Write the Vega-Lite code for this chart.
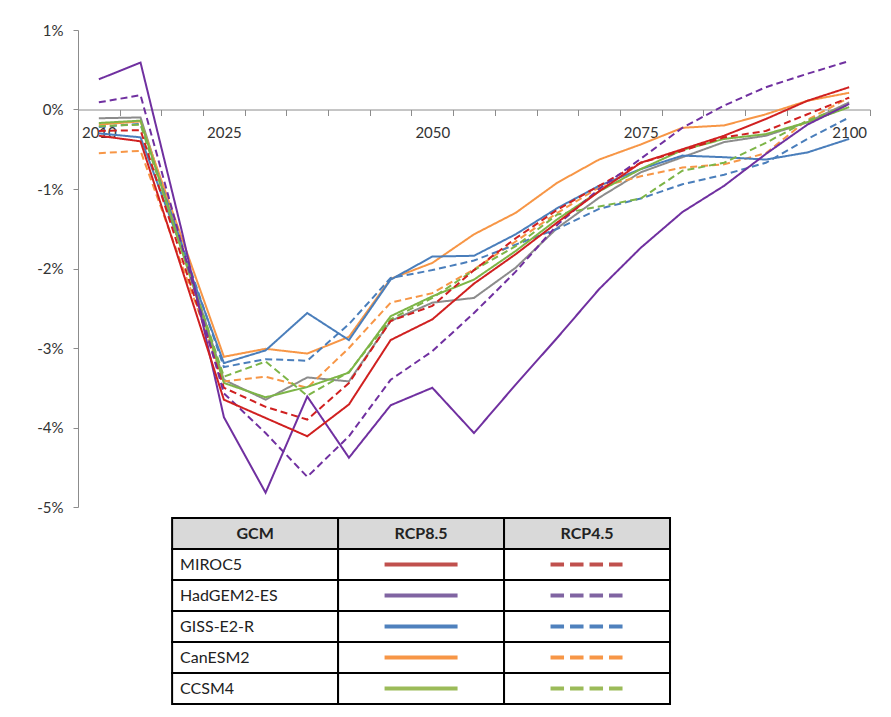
{
  "$schema": "https://vega.github.io/schema/vega-lite/v6.json",
  "background": "white",
  "padding": {"left": 36, "top": 23, "right": 10, "bottom": 5},
  "config": {"view": {"stroke": null}, "font": "Lato"},
  "bounds": "flush",
  "spacing": 11,
  "resolve": {"scale": {"color": "independent", "stroke": "independent", "strokeDash": "independent", "x": "independent", "y": "independent"}},
  "datasets": {
    "series": [
      {"gcm":"Mean","rcp":"RCP8.5","year":2010,"v":-0.11},{"gcm":"Mean","rcp":"RCP8.5","year":2015,"v":-0.10},{"gcm":"Mean","rcp":"RCP8.5","year":2020,"v":-1.75},{"gcm":"Mean","rcp":"RCP8.5","year":2025,"v":-3.40},{"gcm":"Mean","rcp":"RCP8.5","year":2030,"v":-3.65},{"gcm":"Mean","rcp":"RCP8.5","year":2035,"v":-3.37},{"gcm":"Mean","rcp":"RCP8.5","year":2040,"v":-3.42},{"gcm":"Mean","rcp":"RCP8.5","year":2045,"v":-2.66},{"gcm":"Mean","rcp":"RCP8.5","year":2050,"v":-2.43},{"gcm":"Mean","rcp":"RCP8.5","year":2055,"v":-2.37},{"gcm":"Mean","rcp":"RCP8.5","year":2060,"v":-1.99},{"gcm":"Mean","rcp":"RCP8.5","year":2065,"v":-1.49},{"gcm":"Mean","rcp":"RCP8.5","year":2070,"v":-1.11},{"gcm":"Mean","rcp":"RCP8.5","year":2075,"v":-0.79},{"gcm":"Mean","rcp":"RCP8.5","year":2080,"v":-0.60},{"gcm":"Mean","rcp":"RCP8.5","year":2085,"v":-0.41},{"gcm":"Mean","rcp":"RCP8.5","year":2090,"v":-0.33},{"gcm":"Mean","rcp":"RCP8.5","year":2095,"v":-0.16},{"gcm":"Mean","rcp":"RCP8.5","year":2100,"v":0.09},

      {"gcm":"CanESM2","rcp":"RCP8.5","year":2010,"v":-0.19},{"gcm":"CanESM2","rcp":"RCP8.5","year":2015,"v":-0.15},{"gcm":"CanESM2","rcp":"RCP8.5","year":2020,"v":-1.63},{"gcm":"CanESM2","rcp":"RCP8.5","year":2025,"v":-3.11},{"gcm":"CanESM2","rcp":"RCP8.5","year":2030,"v":-3.01},{"gcm":"CanESM2","rcp":"RCP8.5","year":2035,"v":-3.07},{"gcm":"CanESM2","rcp":"RCP8.5","year":2040,"v":-2.86},{"gcm":"CanESM2","rcp":"RCP8.5","year":2045,"v":-2.13},{"gcm":"CanESM2","rcp":"RCP8.5","year":2050,"v":-1.93},{"gcm":"CanESM2","rcp":"RCP8.5","year":2055,"v":-1.57},{"gcm":"CanESM2","rcp":"RCP8.5","year":2060,"v":-1.30},{"gcm":"CanESM2","rcp":"RCP8.5","year":2065,"v":-0.92},{"gcm":"CanESM2","rcp":"RCP8.5","year":2070,"v":-0.63},{"gcm":"CanESM2","rcp":"RCP8.5","year":2075,"v":-0.44},{"gcm":"CanESM2","rcp":"RCP8.5","year":2080,"v":-0.23},{"gcm":"CanESM2","rcp":"RCP8.5","year":2085,"v":-0.20},{"gcm":"CanESM2","rcp":"RCP8.5","year":2090,"v":-0.06},{"gcm":"CanESM2","rcp":"RCP8.5","year":2095,"v":0.11},{"gcm":"CanESM2","rcp":"RCP8.5","year":2100,"v":0.21},

      {"gcm":"CanESM2","rcp":"RCP4.5","year":2010,"v":-0.55},{"gcm":"CanESM2","rcp":"RCP4.5","year":2015,"v":-0.52},{"gcm":"CanESM2","rcp":"RCP4.5","year":2020,"v":-1.97},{"gcm":"CanESM2","rcp":"RCP4.5","year":2025,"v":-3.42},{"gcm":"CanESM2","rcp":"RCP4.5","year":2030,"v":-3.36},{"gcm":"CanESM2","rcp":"RCP4.5","year":2035,"v":-3.50},{"gcm":"CanESM2","rcp":"RCP4.5","year":2040,"v":-3.00},{"gcm":"CanESM2","rcp":"RCP4.5","year":2045,"v":-2.43},{"gcm":"CanESM2","rcp":"RCP4.5","year":2050,"v":-2.31},{"gcm":"CanESM2","rcp":"RCP4.5","year":2055,"v":-2.01},{"gcm":"CanESM2","rcp":"RCP4.5","year":2060,"v":-1.66},{"gcm":"CanESM2","rcp":"RCP4.5","year":2065,"v":-1.30},{"gcm":"CanESM2","rcp":"RCP4.5","year":2070,"v":-0.98},{"gcm":"CanESM2","rcp":"RCP4.5","year":2075,"v":-0.84},{"gcm":"CanESM2","rcp":"RCP4.5","year":2080,"v":-0.73},{"gcm":"CanESM2","rcp":"RCP4.5","year":2085,"v":-0.69},{"gcm":"CanESM2","rcp":"RCP4.5","year":2090,"v":-0.55},{"gcm":"CanESM2","rcp":"RCP4.5","year":2095,"v":-0.13},{"gcm":"CanESM2","rcp":"RCP4.5","year":2100,"v":0.15},

      {"gcm":"GISS-E2-R","rcp":"RCP8.5","year":2010,"v":-0.30},{"gcm":"GISS-E2-R","rcp":"RCP8.5","year":2015,"v":-0.35},{"gcm":"GISS-E2-R","rcp":"RCP8.5","year":2020,"v":-1.77},{"gcm":"GISS-E2-R","rcp":"RCP8.5","year":2025,"v":-3.19},{"gcm":"GISS-E2-R","rcp":"RCP8.5","year":2030,"v":-3.03},{"gcm":"GISS-E2-R","rcp":"RCP8.5","year":2035,"v":-2.56},{"gcm":"GISS-E2-R","rcp":"RCP8.5","year":2040,"v":-2.90},{"gcm":"GISS-E2-R","rcp":"RCP8.5","year":2045,"v":-2.14},{"gcm":"GISS-E2-R","rcp":"RCP8.5","year":2050,"v":-1.85},{"gcm":"GISS-E2-R","rcp":"RCP8.5","year":2055,"v":-1.84},{"gcm":"GISS-E2-R","rcp":"RCP8.5","year":2060,"v":-1.57},{"gcm":"GISS-E2-R","rcp":"RCP8.5","year":2065,"v":-1.24},{"gcm":"GISS-E2-R","rcp":"RCP8.5","year":2070,"v":-0.96},{"gcm":"GISS-E2-R","rcp":"RCP8.5","year":2075,"v":-0.75},{"gcm":"GISS-E2-R","rcp":"RCP8.5","year":2080,"v":-0.58},{"gcm":"GISS-E2-R","rcp":"RCP8.5","year":2085,"v":-0.60},{"gcm":"GISS-E2-R","rcp":"RCP8.5","year":2090,"v":-0.63},{"gcm":"GISS-E2-R","rcp":"RCP8.5","year":2095,"v":-0.54},{"gcm":"GISS-E2-R","rcp":"RCP8.5","year":2100,"v":-0.37},

      {"gcm":"GISS-E2-R","rcp":"RCP4.5","year":2010,"v":-0.22},{"gcm":"GISS-E2-R","rcp":"RCP4.5","year":2015,"v":-0.18},{"gcm":"GISS-E2-R","rcp":"RCP4.5","year":2020,"v":-1.71},{"gcm":"GISS-E2-R","rcp":"RCP4.5","year":2025,"v":-3.24},{"gcm":"GISS-E2-R","rcp":"RCP4.5","year":2030,"v":-3.14},{"gcm":"GISS-E2-R","rcp":"RCP4.5","year":2035,"v":-3.16},{"gcm":"GISS-E2-R","rcp":"RCP4.5","year":2040,"v":-2.70},{"gcm":"GISS-E2-R","rcp":"RCP4.5","year":2045,"v":-2.12},{"gcm":"GISS-E2-R","rcp":"RCP4.5","year":2050,"v":-2.02},{"gcm":"GISS-E2-R","rcp":"RCP4.5","year":2055,"v":-1.90},{"gcm":"GISS-E2-R","rcp":"RCP4.5","year":2060,"v":-1.70},{"gcm":"GISS-E2-R","rcp":"RCP4.5","year":2065,"v":-1.50},{"gcm":"GISS-E2-R","rcp":"RCP4.5","year":2070,"v":-1.25},{"gcm":"GISS-E2-R","rcp":"RCP4.5","year":2075,"v":-1.12},{"gcm":"GISS-E2-R","rcp":"RCP4.5","year":2080,"v":-0.94},{"gcm":"GISS-E2-R","rcp":"RCP4.5","year":2085,"v":-0.82},{"gcm":"GISS-E2-R","rcp":"RCP4.5","year":2090,"v":-0.67},{"gcm":"GISS-E2-R","rcp":"RCP4.5","year":2095,"v":-0.37},{"gcm":"GISS-E2-R","rcp":"RCP4.5","year":2100,"v":-0.10},

      {"gcm":"CCSM4","rcp":"RCP8.5","year":2010,"v":-0.17},{"gcm":"CCSM4","rcp":"RCP8.5","year":2015,"v":-0.14},{"gcm":"CCSM4","rcp":"RCP8.5","year":2020,"v":-1.79},{"gcm":"CCSM4","rcp":"RCP8.5","year":2025,"v":-3.44},{"gcm":"CCSM4","rcp":"RCP8.5","year":2030,"v":-3.62},{"gcm":"CCSM4","rcp":"RCP8.5","year":2035,"v":-3.49},{"gcm":"CCSM4","rcp":"RCP8.5","year":2040,"v":-3.31},{"gcm":"CCSM4","rcp":"RCP8.5","year":2045,"v":-2.60},{"gcm":"CCSM4","rcp":"RCP8.5","year":2050,"v":-2.35},{"gcm":"CCSM4","rcp":"RCP8.5","year":2055,"v":-2.14},{"gcm":"CCSM4","rcp":"RCP8.5","year":2060,"v":-1.78},{"gcm":"CCSM4","rcp":"RCP8.5","year":2065,"v":-1.38},{"gcm":"CCSM4","rcp":"RCP8.5","year":2070,"v":-1.03},{"gcm":"CCSM4","rcp":"RCP8.5","year":2075,"v":-0.75},{"gcm":"CCSM4","rcp":"RCP8.5","year":2080,"v":-0.51},{"gcm":"CCSM4","rcp":"RCP8.5","year":2085,"v":-0.37},{"gcm":"CCSM4","rcp":"RCP8.5","year":2090,"v":-0.31},{"gcm":"CCSM4","rcp":"RCP8.5","year":2095,"v":-0.16},{"gcm":"CCSM4","rcp":"RCP8.5","year":2100,"v":0.03},

      {"gcm":"CCSM4","rcp":"RCP4.5","year":2010,"v":-0.21},{"gcm":"CCSM4","rcp":"RCP4.5","year":2015,"v":-0.19},{"gcm":"CCSM4","rcp":"RCP4.5","year":2020,"v":-1.78},{"gcm":"CCSM4","rcp":"RCP4.5","year":2025,"v":-3.36},{"gcm":"CCSM4","rcp":"RCP4.5","year":2030,"v":-3.17},{"gcm":"CCSM4","rcp":"RCP4.5","year":2035,"v":-3.60},{"gcm":"CCSM4","rcp":"RCP4.5","year":2040,"v":-3.30},{"gcm":"CCSM4","rcp":"RCP4.5","year":2045,"v":-2.64},{"gcm":"CCSM4","rcp":"RCP4.5","year":2050,"v":-2.37},{"gcm":"CCSM4","rcp":"RCP4.5","year":2055,"v":-2.02},{"gcm":"CCSM4","rcp":"RCP4.5","year":2060,"v":-1.72},{"gcm":"CCSM4","rcp":"RCP4.5","year":2065,"v":-1.32},{"gcm":"CCSM4","rcp":"RCP4.5","year":2070,"v":-1.22},{"gcm":"CCSM4","rcp":"RCP4.5","year":2075,"v":-1.12},{"gcm":"CCSM4","rcp":"RCP4.5","year":2080,"v":-0.77},{"gcm":"CCSM4","rcp":"RCP4.5","year":2085,"v":-0.67},{"gcm":"CCSM4","rcp":"RCP4.5","year":2090,"v":-0.42},{"gcm":"CCSM4","rcp":"RCP4.5","year":2095,"v":-0.14},{"gcm":"CCSM4","rcp":"RCP4.5","year":2100,"v":0.06},

      {"gcm":"MIROC5","rcp":"RCP4.5","year":2010,"v":-0.27},{"gcm":"MIROC5","rcp":"RCP4.5","year":2015,"v":-0.26},{"gcm":"MIROC5","rcp":"RCP4.5","year":2020,"v":-1.88},{"gcm":"MIROC5","rcp":"RCP4.5","year":2025,"v":-3.50},{"gcm":"MIROC5","rcp":"RCP4.5","year":2030,"v":-3.74},{"gcm":"MIROC5","rcp":"RCP4.5","year":2035,"v":-3.90},{"gcm":"MIROC5","rcp":"RCP4.5","year":2040,"v":-3.44},{"gcm":"MIROC5","rcp":"RCP4.5","year":2045,"v":-2.66},{"gcm":"MIROC5","rcp":"RCP4.5","year":2050,"v":-2.47},{"gcm":"MIROC5","rcp":"RCP4.5","year":2055,"v":-2.02},{"gcm":"MIROC5","rcp":"RCP4.5","year":2060,"v":-1.62},{"gcm":"MIROC5","rcp":"RCP4.5","year":2065,"v":-1.26},{"gcm":"MIROC5","rcp":"RCP4.5","year":2070,"v":-0.96},{"gcm":"MIROC5","rcp":"RCP4.5","year":2075,"v":-0.67},{"gcm":"MIROC5","rcp":"RCP4.5","year":2080,"v":-0.52},{"gcm":"MIROC5","rcp":"RCP4.5","year":2085,"v":-0.35},{"gcm":"MIROC5","rcp":"RCP4.5","year":2090,"v":-0.27},{"gcm":"MIROC5","rcp":"RCP4.5","year":2095,"v":-0.06},{"gcm":"MIROC5","rcp":"RCP4.5","year":2100,"v":0.15},

      {"gcm":"HadGEM2-ES","rcp":"RCP4.5","year":2010,"v":0.09},{"gcm":"HadGEM2-ES","rcp":"RCP4.5","year":2015,"v":0.18},{"gcm":"HadGEM2-ES","rcp":"RCP4.5","year":2020,"v":-1.72},{"gcm":"HadGEM2-ES","rcp":"RCP4.5","year":2025,"v":-3.57},{"gcm":"HadGEM2-ES","rcp":"RCP4.5","year":2030,"v":-4.07},{"gcm":"HadGEM2-ES","rcp":"RCP4.5","year":2035,"v":-4.62},{"gcm":"HadGEM2-ES","rcp":"RCP4.5","year":2040,"v":-4.11},{"gcm":"HadGEM2-ES","rcp":"RCP4.5","year":2045,"v":-3.40},{"gcm":"HadGEM2-ES","rcp":"RCP4.5","year":2050,"v":-3.04},{"gcm":"HadGEM2-ES","rcp":"RCP4.5","year":2055,"v":-2.56},{"gcm":"HadGEM2-ES","rcp":"RCP4.5","year":2060,"v":-2.04},{"gcm":"HadGEM2-ES","rcp":"RCP4.5","year":2065,"v":-1.45},{"gcm":"HadGEM2-ES","rcp":"RCP4.5","year":2070,"v":-1.00},{"gcm":"HadGEM2-ES","rcp":"RCP4.5","year":2075,"v":-0.62},{"gcm":"HadGEM2-ES","rcp":"RCP4.5","year":2080,"v":-0.23},{"gcm":"HadGEM2-ES","rcp":"RCP4.5","year":2085,"v":0.05},{"gcm":"HadGEM2-ES","rcp":"RCP4.5","year":2090,"v":0.28},{"gcm":"HadGEM2-ES","rcp":"RCP4.5","year":2095,"v":0.45},{"gcm":"HadGEM2-ES","rcp":"RCP4.5","year":2100,"v":0.61},

      {"gcm":"HadGEM2-ES","rcp":"RCP8.5","year":2010,"v":0.38},{"gcm":"HadGEM2-ES","rcp":"RCP8.5","year":2015,"v":0.59},{"gcm":"HadGEM2-ES","rcp":"RCP8.5","year":2020,"v":-1.55},{"gcm":"HadGEM2-ES","rcp":"RCP8.5","year":2025,"v":-3.87},{"gcm":"HadGEM2-ES","rcp":"RCP8.5","year":2030,"v":-4.82},{"gcm":"HadGEM2-ES","rcp":"RCP8.5","year":2035,"v":-3.61},{"gcm":"HadGEM2-ES","rcp":"RCP8.5","year":2040,"v":-4.38},{"gcm":"HadGEM2-ES","rcp":"RCP8.5","year":2045,"v":-3.72},{"gcm":"HadGEM2-ES","rcp":"RCP8.5","year":2050,"v":-3.50},{"gcm":"HadGEM2-ES","rcp":"RCP8.5","year":2055,"v":-4.07},{"gcm":"HadGEM2-ES","rcp":"RCP8.5","year":2060,"v":-3.46},{"gcm":"HadGEM2-ES","rcp":"RCP8.5","year":2065,"v":-2.87},{"gcm":"HadGEM2-ES","rcp":"RCP8.5","year":2070,"v":-2.26},{"gcm":"HadGEM2-ES","rcp":"RCP8.5","year":2075,"v":-1.74},{"gcm":"HadGEM2-ES","rcp":"RCP8.5","year":2080,"v":-1.29},{"gcm":"HadGEM2-ES","rcp":"RCP8.5","year":2085,"v":-0.96},{"gcm":"HadGEM2-ES","rcp":"RCP8.5","year":2090,"v":-0.56},{"gcm":"HadGEM2-ES","rcp":"RCP8.5","year":2095,"v":-0.19},{"gcm":"HadGEM2-ES","rcp":"RCP8.5","year":2100,"v":0.07},

      {"gcm":"MIROC5","rcp":"RCP8.5","year":2010,"v":-0.33},{"gcm":"MIROC5","rcp":"RCP8.5","year":2015,"v":-0.40},{"gcm":"MIROC5","rcp":"RCP8.5","year":2020,"v":-2.02},{"gcm":"MIROC5","rcp":"RCP8.5","year":2025,"v":-3.65},{"gcm":"MIROC5","rcp":"RCP8.5","year":2030,"v":-3.88},{"gcm":"MIROC5","rcp":"RCP8.5","year":2035,"v":-4.11},{"gcm":"MIROC5","rcp":"RCP8.5","year":2040,"v":-3.71},{"gcm":"MIROC5","rcp":"RCP8.5","year":2045,"v":-2.90},{"gcm":"MIROC5","rcp":"RCP8.5","year":2050,"v":-2.64},{"gcm":"MIROC5","rcp":"RCP8.5","year":2055,"v":-2.19},{"gcm":"MIROC5","rcp":"RCP8.5","year":2060,"v":-1.82},{"gcm":"MIROC5","rcp":"RCP8.5","year":2065,"v":-1.42},{"gcm":"MIROC5","rcp":"RCP8.5","year":2070,"v":-1.03},{"gcm":"MIROC5","rcp":"RCP8.5","year":2075,"v":-0.67},{"gcm":"MIROC5","rcp":"RCP8.5","year":2080,"v":-0.50},{"gcm":"MIROC5","rcp":"RCP8.5","year":2085,"v":-0.33},{"gcm":"MIROC5","rcp":"RCP8.5","year":2090,"v":-0.12},{"gcm":"MIROC5","rcp":"RCP8.5","year":2095,"v":0.11},{"gcm":"MIROC5","rcp":"RCP8.5","year":2100,"v":0.28}
    ],
    "table": [
      {"row":"GCM","col":"GCM","text":"GCM","kind":"header"},
      {"row":"GCM","col":"RCP8.5","text":"RCP8.5","kind":"header"},
      {"row":"GCM","col":"RCP4.5","text":"RCP4.5","kind":"header"},
      {"row":"MIROC5","col":"GCM","text":"MIROC5","kind":"name"},
      {"row":"MIROC5","col":"RCP8.5","text":"","kind":"sample"},
      {"row":"MIROC5","col":"RCP4.5","text":"","kind":"sample"},
      {"row":"HadGEM2-ES","col":"GCM","text":"HadGEM2-ES","kind":"name"},
      {"row":"HadGEM2-ES","col":"RCP8.5","text":"","kind":"sample"},
      {"row":"HadGEM2-ES","col":"RCP4.5","text":"","kind":"sample"},
      {"row":"GISS-E2-R","col":"GCM","text":"GISS-E2-R","kind":"name"},
      {"row":"GISS-E2-R","col":"RCP8.5","text":"","kind":"sample"},
      {"row":"GISS-E2-R","col":"RCP4.5","text":"","kind":"sample"},
      {"row":"CanESM2","col":"GCM","text":"CanESM2","kind":"name"},
      {"row":"CanESM2","col":"RCP8.5","text":"","kind":"sample"},
      {"row":"CanESM2","col":"RCP4.5","text":"","kind":"sample"},
      {"row":"CCSM4","col":"GCM","text":"CCSM4","kind":"name"},
      {"row":"CCSM4","col":"RCP8.5","text":"","kind":"sample"},
      {"row":"CCSM4","col":"RCP4.5","text":"","kind":"sample"}
    ]
  },
  "vconcat": [
    {
      "width": 792,
      "height": 477,
      "data": {"name": "series"},
      "mark": {"type": "line", "strokeWidth": 2, "strokeCap": "butt", "strokeJoin": "miter"},
      "encoding": {
        "x": {
          "field": "year", "type": "quantitative",
          "scale": {"domain": [2007.5, 2102.5], "nice": false, "zero": false},
          "axis": {
            "title": null, "grid": false,
            "values": [2007.5,2012.5,2017.5,2022.5,2027.5,2032.5,2037.5,2042.5,2047.5,2052.5,2057.5,2062.5,2067.5,2072.5,2077.5,2082.5,2087.5,2092.5,2097.5,2102.5],
            "labelExpr": "(datum.value + 2.5 == 2010 || (datum.value + 2.5) % 25 == 0) ? '' + (datum.value + 2.5) : ''",
            "labelOffset": 20.84, "offset": -397.5,
            "tickSize": 6, "tickColor": "#8C8C8C", "domainColor": "#8C8C8C",
            "labelFont": "Lato", "labelFontSize": 15, "labelColor": "#333333", "labelPadding": 10,
            "labelOverlap": false, "labelBound": false, "labelFlush": false
          }
        },
        "y": {
          "field": "v", "type": "quantitative",
          "scale": {"domain": [-5, 1], "nice": false, "zero": false},
          "axis": {
            "title": null, "grid": false, "values": [-5,-4,-3,-2,-1,0,1],
            "labelExpr": "datum.value + '%'",
            "tickSize": 5, "tickColor": "#8C8C8C", "domainColor": "#8C8C8C",
            "labelFont": "Lato", "labelFontSize": 15, "labelColor": "#333333", "labelPadding": 10
          }
        },
        "color": {
          "field": "gcm", "type": "nominal",
          "scale": {"domain": ["MIROC5","HadGEM2-ES","GISS-E2-R","CanESM2","CCSM4","Mean"],
                    "range": ["#D02020","#7030A0","#4A7EBB","#F79646","#7DB547","#8C8C8C"]},
          "legend": null
        },
        "strokeDash": {
          "field": "rcp", "type": "nominal",
          "scale": {"domain": ["RCP8.5","RCP4.5"], "range": [[1,0],[7,4]]},
          "legend": null
        }
      }
    },
    {
      "width": 792,
      "height": 186,
      "data": {"name": "table"},
      "encoding": {
        "x": {"field": "col", "type": "nominal", "scale": {"domain": ["GCM","RCP8.5","RCP4.5"], "paddingInner": 0, "paddingOuter": 0.886, "align": 0.32}, "axis": null},
        "y": {"field": "row", "type": "nominal", "scale": {"domain": ["GCM","MIROC5","HadGEM2-ES","GISS-E2-R","CanESM2","CCSM4"], "paddingInner": 0, "paddingOuter": 0}, "axis": null}
      },
      "layer": [
        {
          "mark": {"type": "rect", "stroke": "black", "strokeWidth": 2},
          "encoding": {"fill": {"condition": {"test": "datum.kind == 'header'", "value": "#D9D9D9"}, "value": "white"}}
        },
        {
          "transform": [{"filter": "datum.kind == 'header'"}],
          "mark": {"type": "text", "fontWeight": "bold", "fontSize": 16, "font": "Lato", "color": "#222222"},
          "encoding": {"text": {"field": "text"}}
        },
        {
          "transform": [{"filter": "datum.kind == 'name'"}],
          "mark": {"type": "text", "align": "left", "dx": 8, "fontSize": 16, "font": "Lato", "color": "#222222"},
          "encoding": {"x": {"field": "col", "type": "nominal", "bandPosition": 0}, "text": {"field": "text"}}
        },
        {
          "transform": [{"filter": "datum.kind == 'sample'"}],
          "mark": {"type": "point", "shape": "M-1,0L1,0", "size": 5329, "filled": false, "strokeWidth": 4, "opacity": 1, "strokeCap": "butt"},
          "encoding": {
            "stroke": {"field": "row", "type": "nominal",
              "scale": {"domain": ["MIROC5","HadGEM2-ES","GISS-E2-R","CanESM2","CCSM4"], "range": ["#C0504D","#8064A2","#4F81BD","#F79646","#9BBB59"]},
              "legend": null},
            "strokeDash": {"field": "col", "type": "nominal",
              "scale": {"domain": ["RCP8.5","RCP4.5"], "range": [[1,0],[13.5,6]]},
              "legend": null}
          }
        }
      ]
    }
  ]
}
